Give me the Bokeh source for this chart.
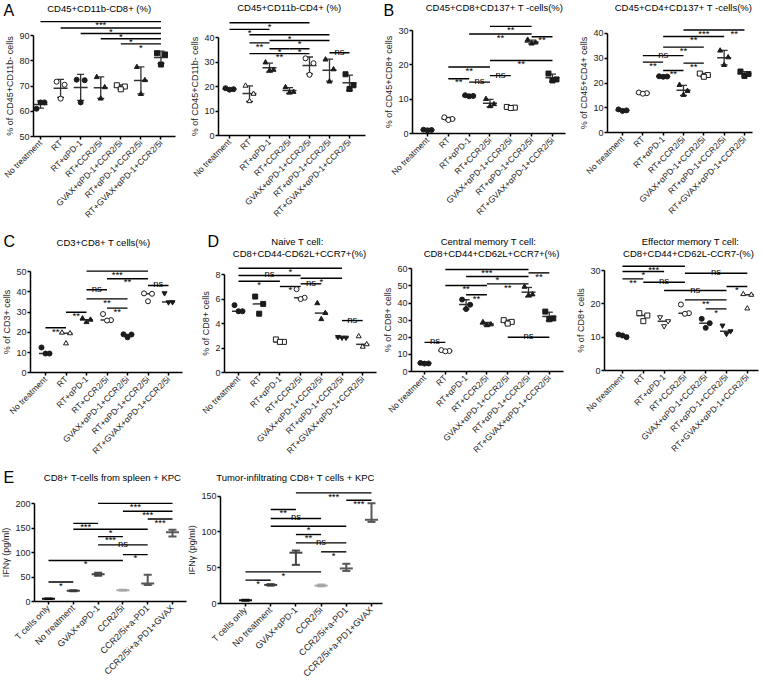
import math
import numpy as np
from bokeh.plotting import figure
from bokeh.models import ColumnDataSource, FixedTicker, Range1d
from bokeh.core.properties import value
from bokeh.layouts import column, row
from bokeh.embed import file_html
from bokeh.resources import INLINE

# ---------------- data ----------------
groups_treat = ["No treatment", "RT", "RT+αPD-1", "RT+CCR2/5i",
                "GVAX+αPD-1+CCR2/5i", "RT+αPD-1+CCR2/5i", "RT+GVAX+αPD-1+CCR2/5i"]
groups_ifn = ["T cells only", "No treatment", "GVAX+αPD-1", "CCR2/5i",
              "CCR2/5i+a-PD1", "CCR2/5i+a-PD1+GVAX"]

# A: CD45+CD11b-CD8+ (%)
a1_ticks = [50, 60, 70, 80, 90]
a1_values = [[61.0, 63.5, 63.5], [71.7, 70.5, 65.0], [72.5, 72.3, 63.5], [73.5, 69.5, 65.0],
             [70.3, 69.8, 68.7], [77.5, 72.3, 66.8], [83.0, 82.5, 78.5]]
a1_sig = [(0, 6, 95.5, "***"), (1, 6, 93.0, "*"), (2, 6, 90.8, "*"), (3, 6, 88.7, "*"), (4, 6, 86.7, "*")]

# A: CD45+CD11b-CD4+ (%)
a2_ticks = [0, 10, 20, 30, 40]
a2_values = [[19.3, 18.9, 18.7], [20.3, 17.0, 14.0], [29.8, 26.8, 26.5], [19.7, 17.8, 17.5],
             [31.5, 29.5, 24.8], [31.0, 27.0, 22.0], [25.0, 20.5, 19.0]]
a2_sig = [(0, 4, 46.0, "*"), (0, 2, 43.3, "*"), (1, 5, 41.1, "*"), (2, 5, 38.8, "*"),
          (1, 2, 37.8, "**"), (2, 3, 35.4, "*"), (3, 4, 35.4, "*"), (1, 4, 33.4, "**"), (5, 6, 33.8, "ns")]

# B: CD45+CD8+CD137+
b1_ticks = [0, 10, 20, 30]
b1_values = [[1.2, 1.1, 1.0], [4.8, 4.3, 4.0], [11.2, 11.0, 10.9], [10.1, 8.6, 8.0],
             [7.8, 7.6, 7.5], [27.3, 26.5, 26.2], [17.5, 15.8, 15.5]]
b1_sig = [(3, 5, 31.2, "**"), (2, 5, 29.0, "**"), (5, 6, 28.2, "**"), (3, 6, 21.3, "**"),
          (1, 3, 19.4, "**"), (3, 4, 16.9, "ns"), (1, 2, 16.0, "**"), (2, 3, 15.0, "ns")]

# B: CD45+CD4+CD137+
b2_ticks = [0, 10, 20, 30, 40]
b2_values = [[9.4, 9.0, 8.8], [16.2, 15.9, 15.7], [22.7, 22.6, 22.5], [19.2, 16.8, 15.2],
             [23.8, 23.2, 22.5], [33.0, 30.3, 27.2], [24.6, 23.6, 22.8]]
b2_sig = [(3, 5, 41.3, "***"), (5, 6, 41.3, "**"), (2, 5, 38.7, "**"), (2, 4, 34.4, "**"),
          (1, 3, 31.0, "ns"), (1, 2, 28.4, "**"), (3, 4, 28.0, "**"), (2, 3, 25.0, "**")]

# C: CD3+CD8+
c_ticks = [0, 10, 20, 30, 40, 50]
c_values = [[12.5, 9.5, 9.5], [19.8, 19.5, 14.5], [26.8, 26.2, 25.0], [29.0, 26.0, 25.8],
            [19.0, 18.9, 17.5], [39.2, 39.0, 35.3], [39.3, 34.9, 34.8]]
c_sig = [(2, 5, 50.2, "***"), (3, 5, 46.4, "**"), (5, 6, 43.1, "ns"), (2, 3, 41.0, "ns"),
         (2, 4, 36.5, "**"), (3, 4, 31.9, "**"), (1, 2, 29.9, "**"), (0, 1, 22.2, "**")]

# D: naive
d1_ticks = [0, 2, 4, 6, 8]
d1_values = [[5.5, 5.0, 5.0], [6.2, 5.6, 4.8], [2.7, 2.5, 2.5], [6.8, 6.1, 6.0],
             [5.65, 4.85, 4.35], [2.9, 2.85, 2.85], [2.95, 2.3, 2.1]]
d1_sig = [(0, 5, 8.51, "*"), (0, 3, 7.92, "ns"), (3, 5, 7.7, "*"), (0, 2, 7.45, "*"),
          (3, 4, 7.24, "ns"), (2, 3, 7.02, "*"), (5, 6, 4.24, "ns")]

# D: central memory
d2_ticks = [0, 10, 20, 30, 40, 50, 60]
d2_values = [[5.0, 4.7, 4.6], [12.5, 12.0, 11.8], [42.0, 39.0, 36.5], [28.8, 27.5, 27.0],
             [30.0, 29.0, 28.0], [49.5, 45.0, 44.5], [35.0, 31.0, 30.5]]
d2_sig = [(1, 5, 59.6, "***"), (5, 6, 57.6, "**"), (2, 5, 55.5, "*"), (3, 5, 51.2, "**"),
          (1, 3, 50.2, "**"), (2, 3, 44.8, "**"), (4, 6, 20.0, "ns"), (0, 1, 17.0, "ns")]

# D: effector memory
d3_ticks = [0, 10, 20, 30]
d3_values = [[10.8, 10.0, 10.5], [17.2, 16.5, 14.8], [16.0, 14.8, 13.3], [19.8, 17.2, 17.0],
             [15.5, 14.2, 12.8], [13.5, 11.8, 11.0], [22.9, 22.7, 18.6]]
d3_sig = [(0, 3, 31.3, "***"), (0, 2, 29.7, "*"), (3, 6, 29.2, "ns"), (0, 1, 27.5, "**"),
          (1, 3, 26.5, "ns"), (5, 6, 25.2, "*"), (2, 5, 24.0, "ns"), (3, 5, 21.2, "**"), (4, 5, 18.5, "*")]

# E: IFNγ spleen
e1_ticks = [0, 50, 100, 150, 200]
e1_mean = [5.5, 22.0, 56.0, 23.0, 37.0, 142.0]
e1_low = [5.0, 21.0, 53.0, 22.5, 34.0, 133.0]
e1_high = [6.0, 23.0, 59.0, 24.0, 55.0, 147.0]
e1_sig = [(2, 5, 201, "***"), (3, 5, 185, "***"), (4, 5, 169, "***"), (1, 2, 160, "***"),
          (1, 4, 148, "*"), (2, 3, 133, "***"), (2, 4, 116, "ns"), (3, 4, 96, "*"),
          (0, 3, 84, "*"), (0, 1, 40, "*")]

# E: IFNγ tumor-infiltrating
e2_ticks = [0, 50, 100, 150]
e2_mean = [4.7, 26.0, 71.0, 25.0, 49.0, 117.0]
e2_low = [4.0, 25.0, 54.0, 24.0, 45.5, 114.0]
e2_high = [5.3, 27.0, 74.0, 26.5, 55.5, 140.0]
e2_sig = [(2, 5, 154.6, "***"), (4, 5, 144.4, "***"), (1, 2, 131.3, "**"), (1, 3, 118.8, "ns"),
          (1, 4, 108, "*"), (2, 3, 96.4, "**"), (2, 4, 84.8, "ns"), (3, 4, 72.2, "*"),
          (0, 3, 44.2, "*"), (0, 1, 32.6, "*")]

# ---------------- styles ----------------
FONT = "Liberation Sans"
INK = "#1c1c1c"
BAR = "#333333"

mk_a1 = [("circle", 1), ("circle", 0), ("circle", 1), ("triangle", 1), ("square", 0), ("triangle", 1), ("square", 1)]
mk_a2 = [("circle", 1), ("triangle", 0), ("triangle", 1), ("triangle", 1), ("circle", 0), ("triangle", 1), ("square", 1)]
mk_b = [("circle", 1), ("circle", 0), ("circle", 1), ("triangle", 1), ("square", 0), ("triangle", 1), ("square", 1)]
mk_c = [("circle", 1), ("triangle", 0), ("triangle", 1), ("circle", 0), ("circle", 1), ("circle", 0), ("inverted_triangle", 1)]
mk_d1 = [("circle", 1), ("square", 1), ("square", 0), ("circle", 0), ("triangle", 1), ("inverted_triangle", 1), ("triangle", 0)]
mk_d2 = [("circle", 1), ("circle", 0), ("circle", 1), ("triangle", 1), ("square", 0), ("triangle", 1), ("square", 1)]
mk_d3 = [("circle", 1), ("square", 0), ("inverted_triangle", 0), ("circle", 0), ("circle", 1), ("inverted_triangle", 1), ("triangle", 0)]
e_colors = ["#0d0d0d", "#3a3a3a", "#454545", "#a6a6a6", "#585858", "#585858"]


def base_fig(sp, cats, ticks, ylabel, cat_fs):
    """Whole figure is the frame; axes are pinned with fixed_location."""
    n = len(cats)
    ymin = ticks[0]
    ppu, s, c0, B = sp["ppu"], sp["s"], sp["c0"], sp["B"]
    px2x = lambda px: (px - c0) / s
    py2y = lambda py: ymin + (B - py) / ppu
    p = figure(width=sp["fw"], height=sp["fh"],
               x_range=Range1d(px2x(sp["fx"]), px2x(sp["fx"] + sp["fw"])),
               y_range=Range1d(py2y(sp["fy"] + sp["fh"]), py2y(sp["fy"])),
               output_backend="svg", toolbar_location=None, title=None, min_border=0)
    p.outline_line_color = None
    p.xgrid.visible = False
    p.ygrid.visible = False
    p.background_fill_color = "white"
    p.border_fill_color = "white"
    for ax in (p.xaxis[0], p.yaxis[0]):
        ax.major_tick_in = 0
        ax.major_tick_out = 3
        ax.minor_tick_line_color = None
        ax.axis_line_width = 1.5
        ax.major_tick_line_width = 1.5
        ax.axis_line_color = "black"
        ax.major_tick_line_color = "black"
        ax.major_label_text_font = FONT
        ax.major_label_text_color = INK
    ya = p.yaxis[0]
    ya.fixed_location = px2x(sp["L"])
    ya.ticker = FixedTicker(ticks=ticks)
    ya.bounds = (ticks[0], ticks[-1])
    ya.axis_label = ylabel
    ya.axis_label_text_font = FONT
    ya.axis_label_text_font_size = "9px"
    ya.axis_label_text_font_style = "normal"
    ya.axis_label_text_color = INK
    ya.axis_label_standoff = 1
    ya.major_label_text_font_size = "9px"
    ya.major_label_standoff = 1
    xa = p.xaxis[0]
    xa.fixed_location = ymin
    xa.bounds = (px2x(sp["L"]), px2x(sp["R"]))
    xa.ticker = FixedTicker(ticks=list(range(n)))
    xa.major_label_overrides = {i: c for i, c in enumerate(cats)}
    xa.major_label_orientation = math.pi / 4
    xa.major_label_text_font_size = cat_fs
    xa.major_label_standoff = 2

    tx = [px2x(x) for _, x, _ in sp["titles"]]
    ty = [py2y(y) for _, _, y in sp["titles"]]
    tt = [t for t, _, _ in sp["titles"]]
    p.text(x=tx, y=ty, text=tt, text_align="center", text_baseline="middle",
           text_font=value(FONT), text_font_size=value("9.5px"), text_color="black")
    if sp.get("letter"):
        t, lx, ly = sp["letter"]
        p.text(x=[px2x(lx)], y=[py2y(ly)], text=[t], text_align="left", text_baseline="middle",
               text_font=value(FONT), text_font_size=value("16px"), text_color="black")
    return p


def add_sig(p, sp, sig):
    ppu = sp["ppu"]
    x0 = [a for a, b, lv, t in sig]
    x1 = [b for a, b, lv, t in sig]
    lv = [l for a, b, l, t in sig]
    p.segment(x0=x0, x1=x1, y0=lv, y1=lv, line_color="black", line_width=1.4)
    xs, ys, tx = [], [], []
    for a, b, l, t in sig:
        xs.append((a + b) / 2)
        ys.append(l - 3.2 / ppu if "*" in t else l + 1.5 / ppu)
        tx.append(t)
    p.text(x=xs, y=ys, text=tx, text_align="center", text_baseline="alphabetic",
           text_font=value(FONT), text_font_size=value("9.5px"), text_color="black")


def add_points(p, sp, vals, markers, stat):
    s = sp["s"]
    offs = [-4.0, 4.0, 0.0]
    xs, ys, mk, fc = [], [], [], []
    for i, (g, (m, filled)) in enumerate(zip(vals, markers)):
        arr = np.array(g)
        if stat == "sd":
            mu = arr.mean()
            sd = arr.std(ddof=1)
            p.segment(x0=[i], x1=[i], y0=[mu - sd], y1=[mu + sd], line_color=BAR, line_width=1.3)
            p.scatter(x=[i, i], y=[mu - sd, mu + sd], marker="dash", size=7, line_color=BAR, line_width=1.3)
            p.scatter(x=[i], y=[mu], marker="dash", size=14, line_color=BAR, line_width=1.5)
        else:
            md = float(np.median(arr))
            p.scatter(x=[i], y=[md], marker="dash", size=13, line_color=BAR, line_width=1.5)
        for k, v in enumerate(g):
            xs.append(i + offs[k] / s)
            ys.append(v)
            mk.append(m)
            fc.append(INK if filled else "white")
    src = ColumnDataSource(dict(x=xs, y=ys, mk=mk, fcol=fc))
    p.scatter(x="x", y="y", marker="mk", fill_color="fcol", line_color=INK, line_width=1,
              size=5, source=src)


def add_range(p, mean, low, high):
    for i in range(len(mean)):
        c = e_colors[i]
        p.segment(x0=[i], x1=[i], y0=[low[i]], y1=[high[i]], line_color=c, line_width=2)
        p.scatter(x=[i, i], y=[low[i], high[i]], marker="dash", size=8, line_color=c, line_width=2)
        p.scatter(x=[i], y=[mean[i]], marker="dash", size=13, line_color=c, line_width=2)


# ---------------- layout specs (page pixels) ----------------
R1, H1 = 0, 225
R2, H2 = 225, 235
R3, H3 = 460, 218

specs = {
    "a1": dict(fx=0, fy=R1, fw=186, fh=H1, L=33, R=175, B=136, c0=40, s=20.08, ppu=2.525,
               titles=[("CD45+CD11b-CD8+  (%)", 100, 8)], letter=("A", 3, 10)),
    "a2": dict(fx=186, fy=R1, fw=192, fh=H1, L=218, R=365, B=135, c0=229, s=20.0, ppu=2.45,
               titles=[("CD45+CD11b-CD4+  (%)", 290, 7)]),
    "b1": dict(fx=378, fy=R1, fw=192, fh=H1, L=412, R=565, B=133.3, c0=427, s=20.83, ppu=3.443,
               titles=[("CD45+CD8+CD137+ T -cells(%)", 494, 7)], letter=("B", 383, 10)),
    "b2": dict(fx=570, fy=R1, fw=190, fh=H1, L=607, R=752, B=132.3, c0=622, s=20.33, ppu=2.49,
               titles=[("CD45+CD4+CD137+ T -cells(%)", 683, 7)]),
    "c": dict(fx=0, fy=R2, fw=195, fh=H2, L=30, R=182, B=372.3, c0=45, s=20.5, ppu=2.026,
              titles=[("CD3+CD8+ T cells(%)", 103, 242)], letter=("C", 3, 241)),
    "d1": dict(fx=195, fy=R2, fw=187, fh=H2, L=224, R=376, B=372, c0=238, s=20.7, ppu=12.25,
               titles=[("Naive T cell:", 297, 241), ("CD8+CD44-CD62L+CCR7+(%)", 299, 253)], letter=("D", 207, 241)),
    "d2": dict(fx=382, fy=R2, fw=193, fh=H2, L=411, R=563, B=371, c0=424, s=20.8, ppu=1.712,
               titles=[("Central memory T cell:", 488, 241), ("CD8+CD44+CD62L+CCR7+(%)", 491, 253)]),
    "d3": dict(fx=575, fy=R2, fw=185, fh=H2, L=604, R=758, B=370, c0=622, s=20.8, ppu=3.333,
               titles=[("Effector memory T cell:", 690, 241), ("CD8+CD44+CD62L-CCR7-(%)", 688, 253)]),
    "e1": dict(fx=0, fy=R3, fw=188, fh=H3, L=34, R=186, B=601, c0=48, s=24.8, ppu=0.488,
               titles=[("CD8+ T-cells from spleen + KPC", 112, 477)], letter=("E", 3, 477)),
    "e2": dict(fx=188, fy=R3, fw=572, fh=H3, L=220, R=382, B=603, c0=245, s=25.2, ppu=0.7155,
               titles=[("Tumor-infiltrating CD8+ T cells + KPC", 295, 477)]),
}

panels_t = [
    ("a1", a1_ticks, a1_values, a1_sig, mk_a1, "sd", "% of CD45+CD11b- cells"),
    ("a2", a2_ticks, a2_values, a2_sig, mk_a2, "sd", "% of CD45+CD11b- cells"),
    ("b1", b1_ticks, b1_values, b1_sig, mk_b, "sd", "% of CD45+CD8+ cells"),
    ("b2", b2_ticks, b2_values, b2_sig, mk_b, "sd", "% of CD45+CD4+ cells"),
    ("c", c_ticks, c_values, c_sig, mk_c, "median", "% of CD3+ cells"),
    ("d1", d1_ticks, d1_values, d1_sig, mk_d1, "median", "% of CD8+ cells"),
    ("d2", d2_ticks, d2_values, d2_sig, mk_d2, "sd", "% of CD8+ cells"),
    ("d3", d3_ticks, d3_values, d3_sig, mk_d3, "median", "% of CD8+ cells"),
]

figs = {}
for key, ticks, vals, sig, mks, stat, ylab in panels_t:
    sp = specs[key]
    p = base_fig(sp, groups_treat, ticks, ylab, "8.5px")
    add_sig(p, sp, sig)
    add_points(p, sp, vals, mks, stat)
    figs[key] = p

for key, ticks, mean, low, high, sig in [("e1", e1_ticks, e1_mean, e1_low, e1_high, e1_sig),
                                         ("e2", e2_ticks, e2_mean, e2_low, e2_high, e2_sig)]:
    sp = specs[key]
    p = base_fig(sp, groups_ifn, ticks, "IFNγ (pg/ml)", "9px")
    add_sig(p, sp, sig)
    add_range(p, mean, low, high)
    figs[key] = p

layout = column(
    row(figs["a1"], figs["a2"], figs["b1"], figs["b2"], spacing=0),
    row(figs["c"], figs["d1"], figs["d2"], figs["d3"], spacing=0),
    row(figs["e1"], figs["e2"], spacing=0),
    spacing=0,
)

open("out.html", "w").write(file_html(layout, INLINE))
